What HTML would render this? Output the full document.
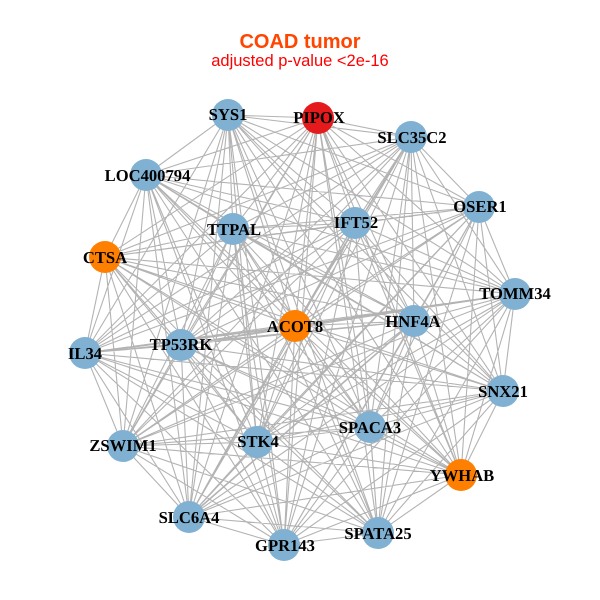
<!DOCTYPE html>
<html><head><meta charset="utf-8"><style>
html,body{margin:0;padding:0;background:#fff}
svg{display:block}
.n{font:bold 16.6px "Liberation Serif",serif;fill:#000;text-anchor:middle;text-rendering:geometricPrecision}
</style></head><body>
<svg width="600" height="600" viewBox="0 0 600 600" xmlns="http://www.w3.org/2000/svg">
<rect width="600" height="600" fill="#fff"/>
<path fill="none" stroke="#b3b3b3" stroke-width="1.1" d="
M228 115L318 118M228 115L411 137M228 115L146 175M228 115L479 207M228 115L233 229M228 115L355 223M228 115L515 294M228 115L295 326M228 115L414 321M228 115L85 353M228 115L181 345M228 115L503 391M228 115L123 446M228 115L257 442M228 115L370 427M228 115L461 475M228 115L189 517M228 115L284 545M228 115L378 533
M318 118L411 137M318 118L146 175M318 118L479 207M318 118L233 229M318 118L355 223M318 118L105 257M318 118L515 294M318 118L295 326M318 118L414 321M318 118L85 353M318 118L181 345M318 118L503 391M318 118L123 446M318 118L257 442M318 118L370 427M318 118L461 475M318 118L189 517M318 118L284 545M318 118L378 533
M411 137L146 175M411 137L479 207M411 137L233 229M411 137L355 223M411 137L105 257M411 137L515 294M411 137L295 326M411 137L414 321M411 137L85 353M411 137L181 345M411 137L503 391M411 137L123 446M411 137L257 442M411 137L370 427M411 137L461 475M411 137L189 517M411 137L284 545M411 137L378 533
M146 175L479 207M146 175L233 229M146 175L355 223M146 175L105 257M146 175L515 294M146 175L295 326M146 175L414 321M146 175L85 353M146 175L181 345M146 175L503 391M146 175L123 446M146 175L257 442M146 175L370 427M146 175L461 475M146 175L189 517M146 175L284 545M146 175L378 533
M479 207L233 229M479 207L355 223M479 207L105 257M479 207L515 294M479 207L295 326M479 207L414 321M479 207L85 353M479 207L181 345M479 207L503 391M479 207L123 446M479 207L257 442M479 207L370 427M479 207L461 475M479 207L189 517M479 207L284 545M479 207L378 533
M233 229L355 223M233 229L105 257M233 229L515 294M233 229L295 326M233 229L414 321M233 229L85 353M233 229L181 345M233 229L503 391M233 229L123 446M233 229L257 442M233 229L370 427M233 229L461 475M233 229L189 517M233 229L284 545M233 229L378 533
M355 223L105 257M355 223L515 294M355 223L295 326M355 223L414 321M355 223L85 353M355 223L181 345M355 223L503 391M355 223L123 446M355 223L257 442M355 223L370 427M355 223L461 475M355 223L189 517M355 223L284 545M355 223L378 533
M105 257L515 294M105 257L295 326M105 257L414 321M105 257L85 353M105 257L181 345M105 257L503 391M105 257L123 446M105 257L257 442M105 257L370 427M105 257L461 475M105 257L189 517M105 257L284 545M105 257L378 533
M515 294L295 326M515 294L414 321M515 294L85 353M515 294L181 345M515 294L503 391M515 294L123 446M515 294L257 442M515 294L370 427M515 294L461 475M515 294L189 517M515 294L284 545M515 294L378 533
M295 326L414 321M295 326L85 353M295 326L181 345M295 326L503 391M295 326L123 446M295 326L257 442M295 326L370 427M295 326L461 475M295 326L189 517M295 326L284 545M295 326L378 533
M414 321L85 353M414 321L181 345M414 321L503 391M414 321L123 446M414 321L257 442M414 321L370 427M414 321L461 475M414 321L189 517M414 321L284 545M414 321L378 533
M85 353L181 345M85 353L503 391M85 353L123 446M85 353L257 442M85 353L370 427M85 353L461 475M85 353L189 517M85 353L284 545M85 353L378 533
M181 345L503 391M181 345L123 446M181 345L257 442M181 345L370 427M181 345L461 475M181 345L189 517M181 345L284 545M181 345L378 533
M503 391L123 446M503 391L257 442M503 391L370 427M503 391L461 475M503 391L189 517M503 391L284 545M503 391L378 533
M123 446L257 442M123 446L370 427M123 446L461 475M123 446L189 517M123 446L284 545M123 446L378 533
M257 442L370 427M257 442L461 475M257 442L189 517M257 442L284 545M257 442L378 533
M370 427L461 475M370 427L189 517M370 427L284 545M370 427L378 533
M461 475L189 517M461 475L284 545M461 475L378 533
M189 517L284 545M189 517L378 533
M284 545L378 533"/>
<path fill="none" stroke="#b3b3b3" stroke-width="1.6" d="M85 353L295 326M295 326L515 294M411 137L295 326M189 517L414 321"/>
<g>
<circle cx="228" cy="115" r="16" fill="#80b1d3"/>
<circle cx="318" cy="118" r="16" fill="#e41a1c"/>
<circle cx="411" cy="137" r="16" fill="#80b1d3"/>
<circle cx="146" cy="175" r="16" fill="#80b1d3"/>
<circle cx="479" cy="207" r="16" fill="#80b1d3"/>
<circle cx="233" cy="229" r="16" fill="#80b1d3"/>
<circle cx="355" cy="223" r="16" fill="#80b1d3"/>
<circle cx="105" cy="257" r="16" fill="#ff7f00"/>
<circle cx="515" cy="294" r="16" fill="#80b1d3"/>
<circle cx="295" cy="326" r="16" fill="#ff7f00"/>
<circle cx="414" cy="321" r="16" fill="#80b1d3"/>
<circle cx="85" cy="353" r="16" fill="#80b1d3"/>
<circle cx="181" cy="345" r="16" fill="#80b1d3"/>
<circle cx="503" cy="391" r="16" fill="#80b1d3"/>
<circle cx="123" cy="446" r="16" fill="#80b1d3"/>
<circle cx="257" cy="442" r="16" fill="#80b1d3"/>
<circle cx="370" cy="427" r="16" fill="#80b1d3"/>
<circle cx="461" cy="475" r="16" fill="#ff7f00"/>
<circle cx="189" cy="517" r="16" fill="#80b1d3"/>
<circle cx="284" cy="545" r="16" fill="#80b1d3"/>
<circle cx="378" cy="533" r="16" fill="#80b1d3"/>
</g>
<g>
<text class="n" x="228" y="120">SYS1</text>
<text class="n" x="319" y="123">PIPOX</text>
<text class="n" x="412" y="143">SLC35C2</text>
<text class="n" x="147.500" y="181">LOC400794</text>
<text class="n" x="480" y="212">OSER1</text>
<text class="n" x="234" y="235">TTPAL</text>
<text class="n" x="356" y="228">IFT52</text>
<text class="n" x="105" y="263">CTSA</text>
<text class="n" x="515" y="299">TOMM34</text>
<text class="n" x="295" y="332">ACOT8</text>
<text class="n" x="413" y="327">HNF4A</text>
<text class="n" x="85" y="359">IL34</text>
<text class="n" x="181" y="350">TP53RK</text>
<text class="n" x="503" y="397">SNX21</text>
<text class="n" x="123" y="451">ZSWIM1</text>
<text class="n" x="258" y="447">STK4</text>
<text class="n" x="370" y="433">SPACA3</text>
<text class="n" x="462" y="481">YWHAB</text>
<text class="n" x="189" y="523">SLC6A4</text>
<text class="n" x="285" y="551">GPR143</text>
<text class="n" x="378" y="539">SPATA25</text>
</g>
<text x="300" y="48" text-anchor="middle" style="font:bold 20px 'Liberation Sans',sans-serif" fill="#ff4500">COAD tumor</text>
<text x="300" y="66" text-anchor="middle" style="font:16.5px 'Liberation Sans',sans-serif" fill="#ff0000">adjusted p-value &lt;2e-16</text>
</svg>
</body></html>
